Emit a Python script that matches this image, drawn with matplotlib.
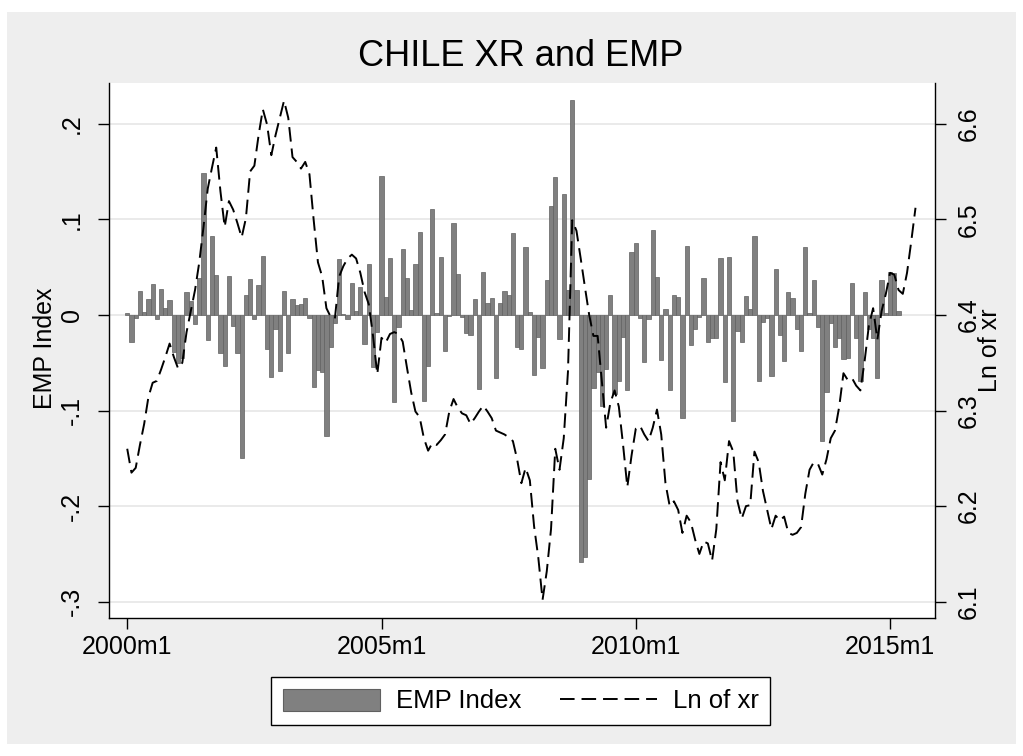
import matplotlib
matplotlib.use("Agg")
import matplotlib.pyplot as plt
from matplotlib.patches import Patch, Rectangle
from matplotlib.lines import Line2D

# Monthly EMP index, 2000m1 .. 2015m3
emp = [
    0.002, -0.028, -0.003, 0.025, 0.003, 0.017, 0.032, -0.004, 0.027, 0.007,
    0.016, -0.039, -0.050, -0.045, 0.024, 0.014, -0.010, 0.039, 0.148, -0.026,
    0.083, 0.042, -0.040, -0.053, 0.041, -0.012, -0.040, -0.150, 0.021, 0.038,
    -0.004, 0.031, 0.062, -0.036, -0.065, -0.015, -0.059, 0.025, -0.040, 0.017,
    0.010, 0.011, 0.018, -0.003, -0.075, -0.058, -0.060, -0.127, -0.034, -0.009,
    0.058, 0.001, -0.004, 0.033, 0.004, 0.029, -0.030, 0.053, -0.055, -0.018,
    0.145, 0.019, 0.060, -0.091, -0.013, 0.069, 0.039, 0.005, 0.053, 0.087,
    -0.090, -0.053, 0.111, 0.002, 0.061, -0.038, -0.001, 0.096, 0.043, -0.002,
    -0.019, -0.021, 0.017, -0.078, 0.045, 0.012, 0.018, -0.066, 0.012, 0.025,
    0.021, 0.086, -0.034, -0.036, 0.071, 0.003, -0.063, -0.023, -0.056, 0.037,
    0.114, 0.144, -0.025, 0.126, 0.026, 0.225, 0.026, -0.258, -0.253, -0.172,
    -0.076, -0.060, -0.095, -0.057, 0.021, -0.083, -0.069, -0.023, -0.079, 0.066,
    0.075, -0.003, -0.049, -0.004, 0.089, 0.040, -0.047, 0.006, -0.079, 0.021,
    0.019, -0.108, 0.072, -0.032, -0.015, -0.002, 0.039, -0.028, -0.024, -0.024,
    0.060, -0.070, 0.061, -0.111, -0.017, -0.028, 0.020, 0.006, 0.082, -0.069,
    -0.007, -0.003, -0.064, 0.048, -0.021, -0.048, 0.024, 0.018, -0.015, -0.038,
    0.071, 0.002, 0.036, -0.013, -0.132, -0.081, -0.009, -0.034, -0.024, -0.046,
    -0.045, 0.033, -0.024, -0.069, 0.024, -0.015, -0.024, -0.066, 0.036, 0.002,
    0.045, 0.044, 0.004,
]

# Log of exchange rate, 2000m1 .. 2015m7
ln_xr = [
    6.260, 6.235, 6.240, 6.264, 6.286, 6.314, 6.329, 6.331, 6.343, 6.356,
    6.370, 6.356, 6.344, 6.350, 6.382, 6.404, 6.426, 6.455, 6.492, 6.532,
    6.554, 6.575, 6.529, 6.492, 6.519, 6.510, 6.496, 6.481, 6.501, 6.550,
    6.556, 6.588, 6.615, 6.599, 6.567, 6.588, 6.606, 6.624, 6.606, 6.565,
    6.560, 6.553, 6.560, 6.547, 6.499, 6.455, 6.440, 6.407, 6.398, 6.396,
    6.440, 6.451, 6.459, 6.463, 6.459, 6.444, 6.424, 6.411, 6.378, 6.338,
    6.376, 6.371, 6.380, 6.382, 6.380, 6.372, 6.345, 6.319, 6.299, 6.293,
    6.271, 6.258, 6.266, 6.264, 6.269, 6.275, 6.299, 6.312, 6.303, 6.297,
    6.295, 6.286, 6.292, 6.299, 6.305, 6.299, 6.292, 6.279, 6.277, 6.275,
    6.272, 6.268, 6.249, 6.224, 6.240, 6.227, 6.179, 6.146, 6.102, 6.132,
    6.176, 6.260, 6.238, 6.271, 6.341, 6.499, 6.488, 6.459, 6.429, 6.400,
    6.378, 6.378, 6.330, 6.282, 6.308, 6.321, 6.304, 6.264, 6.220, 6.253,
    6.281, 6.284, 6.275, 6.268, 6.282, 6.301, 6.275, 6.224, 6.200, 6.205,
    6.196, 6.172, 6.190, 6.183, 6.165, 6.150, 6.163, 6.161, 6.143, 6.176,
    6.246, 6.227, 6.268, 6.257, 6.205, 6.187, 6.200, 6.201, 6.257, 6.246,
    6.216, 6.196, 6.176, 6.190, 6.185, 6.189, 6.172, 6.170, 6.172, 6.178,
    6.213, 6.238, 6.246, 6.244, 6.233, 6.249, 6.271, 6.279, 6.304, 6.339,
    6.332, 6.334, 6.326, 6.321, 6.352, 6.389, 6.407, 6.374, 6.404, 6.422,
    6.444, 6.442, 6.426, 6.422, 6.444, 6.477, 6.512,
]

xtick_pos = [0, 60, 120, 180]
xtick_labels = ["2000m1", "2005m1", "2010m1", "2015m1"]
left_ticks = [-0.3, -0.2, -0.1, 0.0, 0.1, 0.2]
left_labels = ["-.3", "-.2", "-.1", "0", ".1", ".2"]
right_ticks = [6.1, 6.2, 6.3, 6.4, 6.5, 6.6]
right_labels = ["6.1", "6.2", "6.3", "6.4", "6.5", "6.6"]

plt.rcParams["font.family"] = ["Liberation Sans", "DejaVu Sans"]
plt.rcParams["lines.scale_dashes"] = False

W, H = 1023, 756
BG = "#eeeeee"
BAR = "#808080"
BAR_EDGE = "#606060"
FS = 18

fig = plt.figure(figsize=(W / 100, H / 100), dpi=100, facecolor="white")
fig.patches.append(
    Rectangle((7 / W, 1 - 744 / H), 1009 / W, 732 / H,
              transform=fig.transFigure, facecolor=BG, edgecolor="none", zorder=-10)
)

# Primary axis: EMP bars
ax = fig.add_axes([109 / W, 1 - 618 / H, 826 / W, 535 / H])
months = list(range(len(ln_xr)))
ax.bar(months[:len(emp)], emp, width=1.0, color=BAR, edgecolor=BAR_EDGE,
       linewidth=0.5, zorder=2)
ax.set_xlim(-4.3, 190.6)
ax.set_ylim(-0.317, 0.2425)
ax.set_yticks(left_ticks)
ax.set_yticklabels(left_labels, rotation=90, va="center")
ax.set_xticks(xtick_pos)
ax.set_xticklabels(xtick_labels)
ax.grid(axis="y", color="#e6e6e6", linewidth=1.2)
ax.set_axisbelow(True)
ax.tick_params(axis="x", direction="out", length=8, width=1, labelsize=FS, pad=4)
ax.tick_params(axis="y", direction="out", length=8, width=1, labelsize=FS, pad=10)
ax.spines["top"].set_visible(False)
ax.spines["right"].set_visible(False)
for s in ("left", "bottom"):
    ax.spines[s].set_linewidth(1.0)

# Secondary axis: log exchange rate
ax2 = ax.twinx()
ax2.plot(months, ln_xr, color="black", linewidth=1.4, dashes=(10.5, 5))
ax2.set_ylim(6.083, 6.6425)
ax2.set_yticks(right_ticks)
ax2.set_yticklabels(right_labels, rotation=90, va="center")
ax2.tick_params(axis="y", direction="out", length=8, width=1, labelsize=FS, pad=8)
ax2.spines["top"].set_visible(False)
ax2.spines["left"].set_visible(False)
ax2.spines["bottom"].set_visible(False)
ax2.spines["right"].set_linewidth(1.0)

fig.text(521 / W, 1 - 57 / H, "CHILE XR and EMP", ha="center", va="center", fontsize=26)
fig.text(45 / W, 1 - 348 / H, "EMP Index", ha="center", va="center", rotation=90, fontsize=FS)
fig.text(990 / W, 1 - 350 / H, "Ln of xr", ha="center", va="center", rotation=90, fontsize=FS)

handles = [
    Patch(facecolor=BAR, edgecolor=BAR_EDGE, linewidth=0.8),
    Line2D([], [], color="black", linewidth=1.4, dashes=(10.5, 5)),
]
leg = fig.legend(handles, ["EMP Index", "Ln of xr"], loc="center",
                 bbox_to_anchor=(520.5 / W, 1 - 701 / H), ncol=2, frameon=True,
                 fancybox=False, edgecolor="black", framealpha=1, facecolor="white",
                 fontsize=18.5, handlelength=3.8, handleheight=0.95, handletextpad=0.6,
                 columnspacing=1.5, borderpad=0.45)
leg.get_frame().set_linewidth(1.0)

fig.savefig("out.png", dpi=100, facecolor="white")
